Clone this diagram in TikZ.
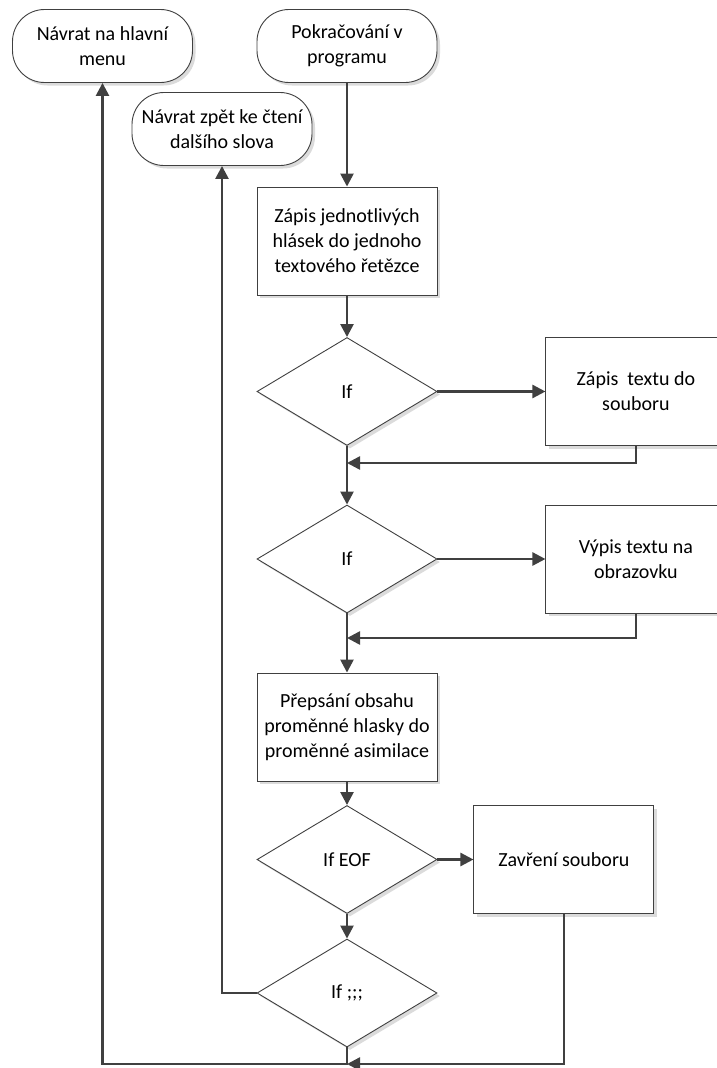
\documentclass[tikz,border=0pt]{standalone}
\usepackage{fontspec}
\setmainfont{Carlito}
\usetikzlibrary{arrows.meta,shapes.geometric,shadows,positioning}
\definecolor{ln}{HTML}{404040}

\begin{document}
\begin{tikzpicture}
  [
   x=1pt, y=-1pt,
   font=\fontsize{20}{25}\selectfont,
   sh/.style={drop shadow={shadow xshift=3pt,shadow yshift=-3pt,fill=black!14,opacity=1}},
   tn/.style={rectangle,rounded corners=32pt,draw=ln,line width=0.9pt,fill=white,sh,align=center,minimum width=180pt,minimum height=73pt,inner sep=0pt},
   pn/.style={rectangle,draw=ln,line width=0.9pt,fill=white,sh,align=center,minimum width=180pt,minimum height=108pt,inner sep=0pt},
   dn/.style={diamond,draw=ln,line width=0.9pt,fill=white,sh,minimum width=180pt,minimum height=108pt,inner sep=0pt},
   cn/.style={-{Triangle[length=13pt,width=13pt]},draw=ln,line width=2.5pt}
  ]
   \useasboundingbox (0,0) rectangle (716,1068);

   \node[tn] (t1) at (102.5,46) {Návrat na hlavní\\menu};
   \node[tn] (t2) at (347,46) {Pokračování v\\programu};
   \node[tn] (t3) at (222,129) {Návrat zpět ke čtení\\dalšího slova};
   \node[pn] (p1) at (347,241) {Zápis jednotlivých\\hlásek do jednoho\\textového řetězce};
   \node[dn] (d1) at (347,391.5) {If};
   \node[pn] (p2) [right=108pt of d1] {Zápis\ \ textu do\\souboru};
   \node[dn] (d2) at (347,559) {If};
   \node[pn] (p3) [right=108pt of d2] {Výpis textu na\\obrazovku};
   \node[pn] (p4) at (347,727) {Přepsání obsahu\\proměnné hlasky do\\proměnné asimilace};
   \node[dn] (d3) at (347,859.5) {If EOF};
   \node[pn] (p5) [right=36pt of d3] {Zavření souboru};
   \node[dn] (d4) at (347,993) {If ;;;};

   \coordinate (j1) at (347,463);
   \coordinate (j2) at (347,638);
   \coordinate (j3) at (347,1064);

   \draw[cn] (t2) -- (p1);
   \draw[cn] (p1) -- (d1);
   \draw[cn] (d1) -- (p2);
   \draw[cn] (p2.south) |- (j1);
   \draw[cn] (d1) -- (d2);
   \draw[cn] (d2) -- (p3);
   \draw[cn] (p3.south) |- (j2);
   \draw[cn] (d2) -- (p4);
   \draw[cn] (p4) -- (d3);
   \draw[cn] (d3) -- (p5);
   \draw[cn] (d3) -- (d4);
   \draw[cn] (d4.west) -| (t3.south);
   \draw[cn] (p5.south) |- (j3);
   \draw[cn] (d4.south) -- (j3) -| (t1.south);

\end{tikzpicture}
\end{document}
